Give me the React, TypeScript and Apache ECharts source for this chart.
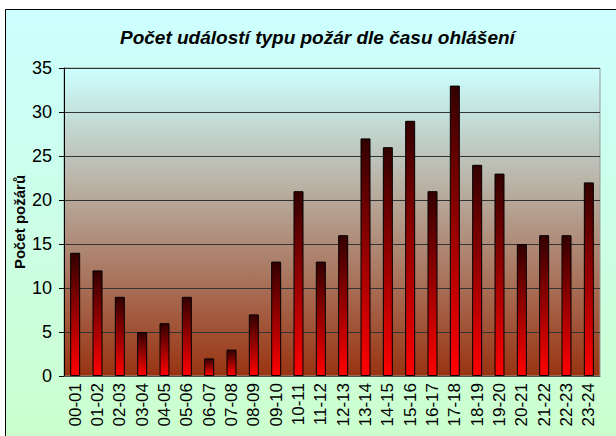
import React, { useEffect, useRef } from "react";
import * as echarts from "echarts";

const categories = ["00-01","01-02","02-03","03-04","04-05","05-06","06-07","07-08","08-09","09-10","10-11","11-12","12-13","13-14","14-15","15-16","16-17","17-18","18-19","19-20","20-21","21-22","22-23","23-24"];
const fireCounts = [14,12,9,5,6,9,2,3,7,13,21,13,16,27,26,29,21,33,24,23,15,16,16,22];
const chartTitle = "Počet událostí typu požár dle času ohlášení";
const yAxisTitle = "Počet požárů";

export default function App() {
  const ref = useRef<HTMLDivElement>(null);
  useEffect(() => {
    if (!ref.current) return;
    const chart = echarts.init(ref.current, null, { renderer: "svg" });
    const font = "Arial, 'Liberation Sans', sans-serif";
    chart.setOption({
      animation: false,
      backgroundColor: "#ffffff",
      title: {
        text: chartTitle,
        left: 115,
        top: 23,
        textStyle: { fontFamily: font, fontSize: 19, fontStyle: "italic", fontWeight: "bold", color: "#000" },
      },
      graphic: [
        {
          type: "rect",
          z: -10,
          silent: true,
          shape: { x: 5.5, y: 9.5, width: 620, height: 440 },
          style: {
            fill: new echarts.graphic.LinearGradient(0, 0, 0, 1, [
              { offset: 0, color: "#CCFFFF" },
              { offset: 1, color: "#CCFFCC" },
            ]),
            stroke: "#000",
            lineWidth: 1,
          },
        },
        {
          type: "text",
          x: 19,
          y: 222,
          rotation: Math.PI / 2,
          style: {
            text: yAxisTitle,
            fontFamily: font,
            fontSize: 15,
            fontWeight: "bold",
            fill: "#000",
            align: "center",
            verticalAlign: "middle",
          },
        },
      ],
      grid: {
        left: 64,
        right: 16,
        top: 68,
        bottom: 60,
        show: true,
        borderColor: "#999",
        borderWidth: 1,
        backgroundColor: new echarts.graphic.LinearGradient(0, 0, 0, 1, [
          { offset: 0, color: "#CCFFFF" },
          { offset: 1, color: "#993311" },
        ]),
      },
      xAxis: {
        type: "category",
        data: categories,
        axisLine: { show: true, lineStyle: { color: "#555", width: 1 } },
        axisTick: { show: false },
        axisLabel: { rotate: 90, fontFamily: font, fontSize: 17, color: "#000", margin: 7, interval: 0 },
      },
      yAxis: {
        type: "value",
        min: 0,
        max: 35,
        interval: 5,
        axisLine: { show: true, lineStyle: { color: "#000", width: 1 } },
        axisTick: { show: true, length: 5, lineStyle: { color: "#000" } },
        axisLabel: { fontFamily: font, fontSize: 18, color: "#000", margin: 12 },
        splitLine: { show: true, lineStyle: { color: "#333", width: 1 } },
      },
      series: [
        {
          type: "bar",
          data: fireCounts,
          barWidth: 10,
          itemStyle: {
            color: new echarts.graphic.LinearGradient(0, 0, 0, 1, [
              { offset: 0, color: "#330000" },
              { offset: 1, color: "#FF0000" },
            ]),
            borderColor: "#000",
            borderWidth: 1,
          },
        },
      ],
    });
    return () => chart.dispose();
  }, []);
  return <div ref={ref} style={{ position: "fixed", left: 0, top: 0, width: 616, height: 436 }} />;
}
